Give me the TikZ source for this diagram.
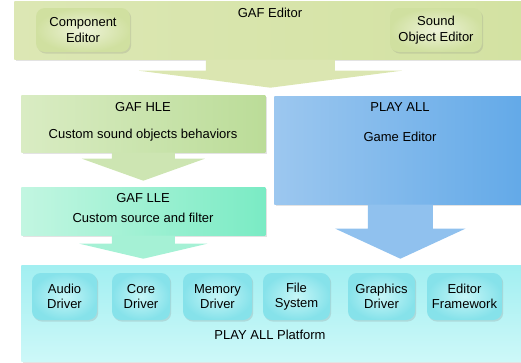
\documentclass[tikz,border=0pt]{standalone}
\usepackage{fontspec}
\setmainfont{Liberation Sans}
\usetikzlibrary{shadows}

\definecolor{editorbar}{HTML}{E9EFCB}
\definecolor{editorbarL}{HTML}{DCE7B4}
\definecolor{editorbarR}{HTML}{D3E2A2}
\definecolor{editortool}{HTML}{D0E0A0}
\definecolor{editortoolC}{HTML}{EEF3D9}
\definecolor{hleL}{HTML}{D9ECC3}
\definecolor{hleR}{HTML}{BBDC98}
\definecolor{lleL}{HTML}{C2F6E1}
\definecolor{lleR}{HTML}{7AEBC4}
\definecolor{playL}{HTML}{9CC7EF}
\definecolor{playM}{HTML}{CCE3F7}
\definecolor{playR}{HTML}{62A9E8}
\definecolor{platT}{HTML}{A2EFF1}
\definecolor{platB}{HTML}{CDF8F8}
\definecolor{drvC}{HTML}{C6F6F7}
\definecolor{drvO}{HTML}{86E2EA}

\newdimen\px \px=0.02cm

% block arrow under a node: node, fill, stem half, head half, stem length, head length
\newcommand\blockarrow[6]{%
  \begin{scope}[shift={(#1.south)}]
    \fill[#2] (-#3,0) -- (-#3,#5) -- (-#4,#5) -- (0,#5+#6) -- (#4,#5) -- (#3,#5) -- (#3,0) -- cycle;
  \end{scope}}

\begin{document}
\begin{tikzpicture}[x=0.02cm,y=-0.02cm,font=\fontsize{7.4}{8.8}\selectfont]
\useasboundingbox (0,0) rectangle (521,362);

\tikzstyle{panel}=[rectangle, anchor=north west, inner sep=0pt,
  drop shadow={shadow xshift=0.7pt, shadow yshift=-0.9pt, opacity=0.22}]
\tikzstyle{tool}=[rectangle, rounded corners=5pt, align=center, inner sep=1pt,
  drop shadow={shadow xshift=0.7pt, shadow yshift=-0.9pt, opacity=0.22}]
\tikzstyle{lbl}=[inner sep=0pt]

% GAF editor
\node[panel, minimum width=512\px, minimum height=58\px,
  left color=editorbarL, middle color=editorbar, right color=editorbarR] (gaf) at (14,1) {};
\node[lbl] (gaftitle) at (270,13) {GAF Editor};
\node[tool, minimum width=94\px, minimum height=44\px,
  inner color=editortoolC, outer color=editortool] (comp) at (83,30) {Component\\Editor};
\node[tool, minimum width=92\px, minimum height=44\px,
  inner color=editortoolC, outer color=editortool] (sound) at (436,30) {Sound\\Object Editor};
\blockarrow{gaf}{editorbarL!85!editorbarR}{64.5}{131.5}{11}{17}

% GAF HLE / LLE
\node[panel, minimum width=244\px, minimum height=57\px,
  left color=hleL, right color=hleR] (hle) at (21,95) {};
\node[lbl] (hletitle) at (143,107) {GAF HLE};
\node[lbl] (hletext) at (143,135) {Custom sound objects behaviors};
\blockarrow{hle}{hleL!60!hleR}{31.5}{61.5}{6}{22}

\node[panel, minimum width=244\px, minimum height=48\px,
  left color=lleL, right color=lleR] (lle) at (21,187) {};
\node[lbl] (lletitle) at (143,198) {GAF LLE};
\node[lbl] (lletext) at (143,218) {Custom source and filter};
\blockarrow{lle}{lleL!60!lleR}{31.5}{64}{8}{15}

% PLAY ALL game editor
\node[panel, minimum width=252\px, minimum height=108\px,
  left color=playL, middle color=playM, right color=playR] (play) at (274,96) {};
\node[lbl] (playtitle) at (400,107) {PLAY ALL};
\node[lbl] (playtext) at (400,137) {Game Editor};
\blockarrow{play}{playL!80!playR}{32.5}{65}{24}{30}

% PLAY ALL platform
\node[panel, minimum width=505\px, minimum height=96\px,
  top color=platT, bottom color=platB] (plat) at (21,265) {};
\node[lbl] (plattitle) at (270,335) {PLAY ALL Platform};
\foreach \x/\w/\t [count=\i] in {64.5/65/{Audio\\Driver}, 141/58/{Core\\Driver},
    217.5/69/{Memory\\Driver}, 296.5/67/{File\\System},
    381.5/67/{Graphics\\Driver}, 464.5/75/{Editor\\Framework}}
  \node[tool, minimum width=\w\px, minimum height=47\px,
    inner color=drvC, outer color=drvO] (drv\i) at (\x,296.5) {\t};

\end{tikzpicture}
\end{document}
